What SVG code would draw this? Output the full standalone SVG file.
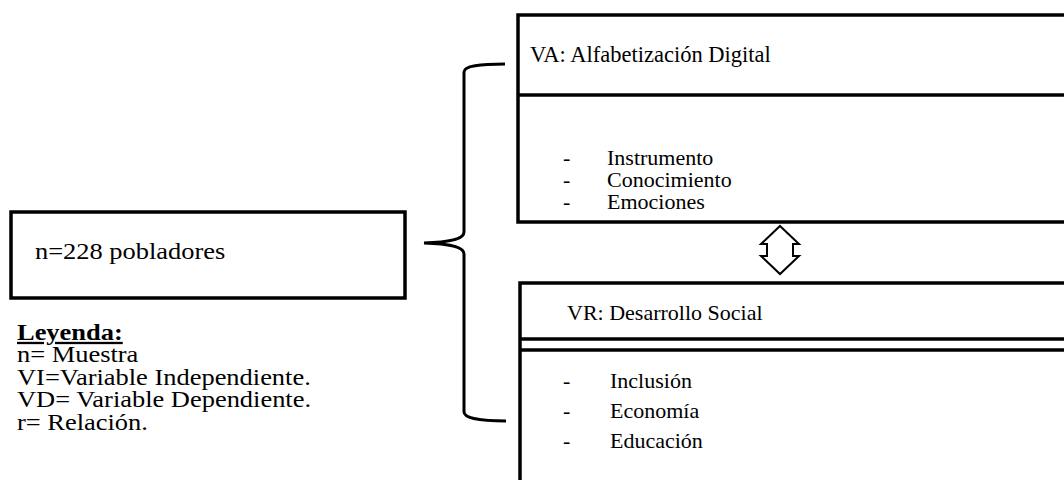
<svg xmlns="http://www.w3.org/2000/svg" width="1064" height="480" viewBox="0 0 1064 480">
<style>
.box{fill:#fff;stroke:#000;stroke-width:3.5}
.ln{stroke:#000;stroke-width:3.5;fill:none}
.br{stroke:#000;stroke-width:3;fill:none}
text{fill:#000}
.b{font-weight:bold;text-decoration:underline}
</style>
<rect width="1064" height="480" fill="#fff"/>
<g id="connectors">
<path class="br" d="M505,64 C480,64 464,66 464,72 L464,232 C464,238 455,242 424,243 C455,244 464,248 464,254 L464,412 C464,418 480,421 506,421"/>
<path d="M780,226 L799,244 L793,244 L793,256 L799,256 L780,274 L761,256 L767,256 L767,244 L761,244 Z" fill="#fff" stroke="#000" stroke-width="2"/>
</g>
<g id="node-muestra">
<rect class="box" x="11" y="212" width="394" height="86"/>
<g transform="scale(1.15 1)" font-family="Liberation Serif, Times New Roman, DejaVu Serif, serif" font-size="23">
<text x="30.4" y="259">n=228 pobladores</text>
</g>
</g>
<g id="legend" transform="scale(1.15 1)" font-family="Liberation Serif, Times New Roman, DejaVu Serif, serif" font-size="23">
<text class="b" x="14.8" y="340">Leyenda:</text>
<text x="14.8" y="362">n= Muestra</text>
<text x="14.8" y="385">VI=Variable Independiente.</text>
<text x="14.8" y="407">VD= Variable Dependiente.</text>
<text x="14.8" y="430">r= Relación.</text>
</g>
<g id="node-va" font-family="Liberation Serif, Times New Roman, DejaVu Serif, serif" font-size="22">
<rect class="box" x="518" y="15" width="560" height="207"/>
<line class="ln" x1="518" y1="95" x2="1070" y2="95"/>
<text x="530" y="62" font-size="22.5">VA: Alfabetización Digital</text>
<text x="563" y="165">-</text><text x="607" y="165">Instrumento</text>
<text x="563" y="187">-</text><text x="607" y="187">Conocimiento</text>
<text x="563" y="209">-</text><text x="607" y="209">Emociones</text>
</g>
<g id="node-vr" font-family="Liberation Serif, Times New Roman, DejaVu Serif, serif" font-size="22">
<rect class="box" x="520" y="283" width="560" height="220"/>
<line class="ln" x1="520" y1="339" x2="1070" y2="339"/>
<line class="ln" x1="520" y1="350" x2="1070" y2="350"/>
<text x="567" y="320">VR: Desarrollo Social</text>
<text x="563" y="388">-</text><text x="610" y="388">Inclusión</text>
<text x="563" y="418">-</text><text x="610" y="418">Economía</text>
<text x="563" y="448">-</text><text x="610" y="448">Educación</text>
</g>
</svg>
